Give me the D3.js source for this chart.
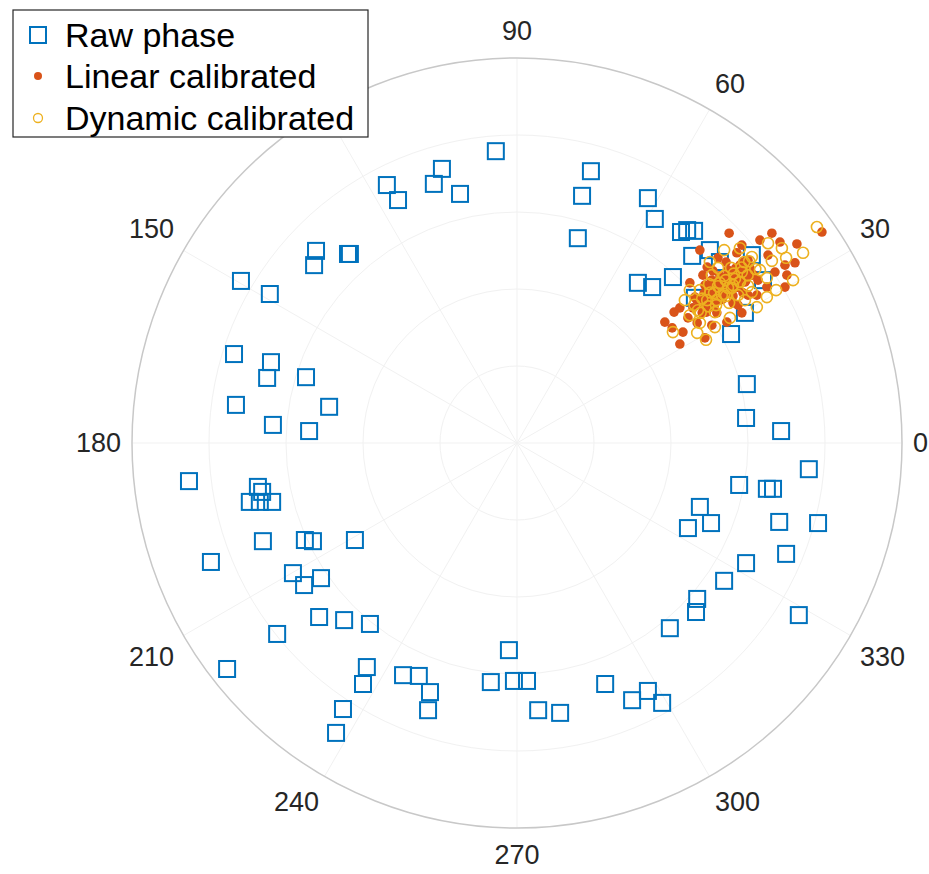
<!DOCTYPE html>
<html>
<head>
<meta charset="utf-8">
<script src="https://cdn.jsdelivr.net/npm/d3@7"></script>
<style>
  body { margin: 0; background: #fff; }
  svg { font-family: "Liberation Sans", Arial, Helvetica, sans-serif; }
</style>
</head>
<body>
<div id="chart"></div>
<script>
const rawRe = [-0.055,0.192,-0.195,-0.338,-0.216,-0.148,-0.309,0.169,0.340,0.358,0.158,0.426,0.442,0.460,0.455,0.501,0.527,0.610,0.405,0.314,0.351,0.462,0.639,0.592,0.556,0.597,0.595,0.686,0.758,0.577,0.649,0.665,0.475,0.504,0.444,0.681,0.782,0.699,0.595,0.538,0.468,0.465,0.397,0.732,0.229,0.299,0.340,0.377,0.112,0.055,-0.008,0.026,-0.068,-0.021,-0.296,-0.255,-0.226,-0.231,-0.390,-0.400,-0.452,-0.470,-0.382,-0.449,-0.514,-0.623,-0.753,-0.795,-0.582,-0.553,-0.509,-0.660,-0.551,-0.530,-0.421,-0.852,-0.694,-0.673,-0.662,-0.636,-0.668,-0.634,-0.540,-0.730,-0.488,-0.735,-0.639,-0.649,-0.548,-0.717,-0.642,-0.522,-0.527,-0.439,-0.434];
const rawIm = [0.758,0.706,0.712,0.670,0.673,0.647,0.631,0.642,0.636,0.582,0.532,0.548,0.553,0.551,0.486,0.501,0.470,0.488,0.431,0.416,0.405,0.377,0.423,0.338,0.283,0.153,0.065,0.031,-0.068,-0.109,-0.119,-0.119,-0.166,-0.208,-0.221,-0.205,-0.208,-0.288,-0.312,-0.358,-0.405,-0.439,-0.481,-0.447,-0.626,-0.668,-0.644,-0.675,-0.701,-0.694,-0.618,-0.618,-0.621,-0.538,-0.603,-0.605,-0.647,-0.694,-0.582,-0.626,-0.691,-0.753,-0.470,-0.460,-0.452,-0.496,-0.587,-0.309,-0.338,-0.369,-0.351,-0.255,-0.252,-0.255,-0.252,-0.099,-0.153,-0.114,-0.127,-0.153,-0.153,0.047,0.031,0.099,0.094,0.231,0.210,0.169,0.171,0.421,0.387,0.499,0.462,0.491,0.491];

const linRe = [0.792,0.662,0.683,0.727,0.551,0.584,0.571,0.522,0.600,0.670,0.696,0.722,0.701,0.696,0.449,0.494,0.509,0.462,0.423,0.384,0.403,0.431,0.423,0.468,0.506,0.545,0.584,0.623,0.649,0.481,0.519,0.561,0.587,0.475,0.631,0.652,0.444,0.488,0.408,0.610,0.514,0.532,0.553,0.574,0.496,0.540,0.566,0.592,0.506,0.548,0.475,0.522,0.605,0.579,0.527,0.488,0.561,0.457,0.626,0.501,0.543,0.600,0.483,0.574,0.517,
    0.466,0.479,0.492,0.486,0.499,0.512,0.507,0.520,0.533,0.527,0.540,0.553,0.548,0.561,0.574,0.568,0.581,0.594,0.588,0.601,0.614,
    0.483,0.496,0.503,0.516,0.524,0.537,0.544,0.557,0.564,0.577,0.585,0.598];
const linIm = [0.548,0.545,0.522,0.517,0.545,0.514,0.494,0.481,0.475,0.444,0.462,0.468,0.436,0.405,0.416,0.457,0.447,0.379,0.351,0.314,0.299,0.288,0.257,0.312,0.306,0.314,0.338,0.384,0.405,0.338,0.338,0.364,0.390,0.501,0.527,0.488,0.325,0.273,0.340,0.436,0.397,0.410,0.423,0.434,0.382,0.390,0.403,0.418,0.423,0.449,0.366,0.371,0.455,0.462,0.434,0.410,0.382,0.351,0.423,0.353,0.470,0.384,0.436,0.358,0.416,
    0.373,0.357,0.340,0.389,0.373,0.356,0.405,0.389,0.373,0.422,0.405,0.389,0.438,0.421,0.405,0.454,0.438,0.421,0.470,0.454,0.437,
    0.373,0.357,0.389,0.373,0.405,0.389,0.421,0.405,0.438,0.422,0.454,0.438];

const dynRe = [0.779,0.652,0.688,0.743,0.662,0.649,0.717,0.649,0.449,0.405,0.468,0.514,0.610,0.475,0.436,0.579,0.538,0.501,0.623,0.553,0.673,0.449,0.592,0.491,0.699,0.527,0.548,0.512,0.566,0.584,0.494,0.538,0.556,0.517,0.600,0.574,0.475,0.532,0.590,0.506,0.470,0.631,0.551,0.522,0.610,0.561,0.499,0.543,0.579,0.514,
    0.461,0.477,0.481,0.497,0.502,0.518,0.522,0.538,0.542,0.558,0.563,0.579,0.583,0.599,0.603,0.619];
const dynIm = [0.561,0.519,0.506,0.494,0.473,0.429,0.423,0.379,0.332,0.288,0.286,0.301,0.483,0.312,0.371,0.506,0.501,0.470,0.353,0.325,0.397,0.397,0.371,0.268,0.481,0.416,0.403,0.390,0.426,0.444,0.371,0.434,0.455,0.358,0.408,0.384,0.397,0.384,0.470,0.436,0.345,0.449,0.364,0.455,0.392,0.410,0.413,0.382,0.418,0.340,
    0.359,0.338,0.375,0.355,0.391,0.371,0.407,0.387,0.423,0.403,0.440,0.419,0.456,0.436,0.472,0.452];

const ringTicks = [0.2, 0.4, 0.6, 0.8, 1.0];
const angleTicks = [0, 30, 60, 90, 120, 150, 180, 210, 240, 270, 300, 330];
// 120 sits under the legend box in the original, so it is not labelled
const angleLabels = ["0", "30", "60", "90", "", "150", "180", "210", "240", "270", "300", "330"];
const seriesNames = ["Raw phase", "Linear calibrated", "Dynamic calibrated"];

const width = 929, height = 874;
const cx = 517, cy = 443, R = 385;

const svg = d3.select("#chart").append("svg")
    .attr("width", width)
    .attr("height", height);

const r = d3.scaleLinear().domain([0, 1]).range([0, R]);
const toRad = d => d * Math.PI / 180;

// turn complex samples into polar points
function polarPoints(re, im) {
    return re.map((v, i) => ({ th: Math.atan2(im[i], v), rho: Math.hypot(v, im[i]) }));
}
const px = d => cx + r(d.rho) * Math.cos(d.th);
const py = d => cy - r(d.rho) * Math.sin(d.th);

const grid = svg.append("g");

// grid rings (very faint, like MATLAB's default)
grid.selectAll("circle.ring")
    .data(ringTicks.slice(0, -1))
    .enter().append("circle")
    .attr("cx", cx).attr("cy", cy)
    .attr("r", d => r(d))
    .attr("fill", "none")
    .attr("stroke", "#f1f1f1")
    .attr("stroke-width", 1);

// spokes
grid.selectAll("line.spoke")
    .data(angleTicks)
    .enter().append("line")
    .attr("x1", cx).attr("y1", cy)
    .attr("x2", d => cx + R * Math.cos(toRad(d)))
    .attr("y2", d => cy - R * Math.sin(toRad(d)))
    .attr("stroke", "#f1f1f1")
    .attr("stroke-width", 1);

// outer circle
grid.append("circle")
    .attr("cx", cx).attr("cy", cy)
    .attr("r", r(1))
    .attr("fill", "none")
    .attr("stroke", "#c8c8c8")
    .attr("stroke-width", 1.5);

// angle labels, pushed out from the rim by their half box
const labelSize = 27;
const sgn = v => (Math.abs(v) < 1e-6 ? 0 : Math.sign(v));
grid.selectAll("text.angle")
    .data(angleTicks.filter((d, i) => angleLabels[i] !== ""))
    .enter().append("text")
    .attr("font-size", labelSize)
    .attr("fill", "#262626")
    .attr("text-anchor", "middle")
    .attr("dominant-baseline", "central")
    .text(d => angleLabels[angleTicks.indexOf(d)])
    .each(function (d) {
        const w = this.getComputedTextLength();
        const a = toRad(d);
        const base = R + 11;
        d3.select(this)
            .attr("x", cx + base * Math.cos(a) + sgn(Math.cos(a)) * w / 2)
            .attr("y", cy - base * Math.sin(a) - sgn(Math.sin(a)) * 16);
    });

// raw phase squares
const sq = 16;
svg.append("g").selectAll("rect")
    .data(polarPoints(rawRe, rawIm))
    .enter().append("rect")
    .attr("x", d => px(d) - sq / 2)
    .attr("y", d => py(d) - sq / 2)
    .attr("width", sq).attr("height", sq)
    .attr("fill", "none")
    .attr("stroke", "#0072BD")
    .attr("stroke-width", 2);

// linear calibrated dots
svg.append("g").selectAll("circle")
    .data(polarPoints(linRe, linIm))
    .enter().append("circle")
    .attr("cx", px).attr("cy", py)
    .attr("r", 4.8)
    .attr("fill", "#D95319");

// dynamic calibrated rings
svg.append("g").selectAll("circle")
    .data(polarPoints(dynRe, dynIm))
    .enter().append("circle")
    .attr("cx", px).attr("cy", py)
    .attr("r", 5.5)
    .attr("fill", "none")
    .attr("stroke", "#EDB120")
    .attr("stroke-width", 1.6);

// legend
const legend = svg.append("g");
legend.append("rect")
    .attr("x", 13).attr("y", 10)
    .attr("width", 355).attr("height", 127)
    .attr("fill", "#fff")
    .attr("stroke", "#262626")
    .attr("stroke-width", 1.2);

const rowY = [35, 76, 118];
legend.append("rect")
    .attr("x", 38 - sq / 2).attr("y", rowY[0] - sq / 2)
    .attr("width", sq).attr("height", sq)
    .attr("fill", "none").attr("stroke", "#0072BD").attr("stroke-width", 2);
legend.append("circle")
    .attr("cx", 38).attr("cy", rowY[1]).attr("r", 4)
    .attr("fill", "#D95319");
legend.append("circle")
    .attr("cx", 38).attr("cy", rowY[2]).attr("r", 4.5)
    .attr("fill", "none").attr("stroke", "#EDB120").attr("stroke-width", 1.3);

legend.selectAll("text")
    .data(seriesNames)
    .enter().append("text")
    .attr("x", 65)
    .attr("y", (d, i) => rowY[i])
    .attr("dominant-baseline", "central")
    .attr("font-size", 34)
    .attr("fill", "#000")
    .text(d => d);
</script>
</body>
</html>
